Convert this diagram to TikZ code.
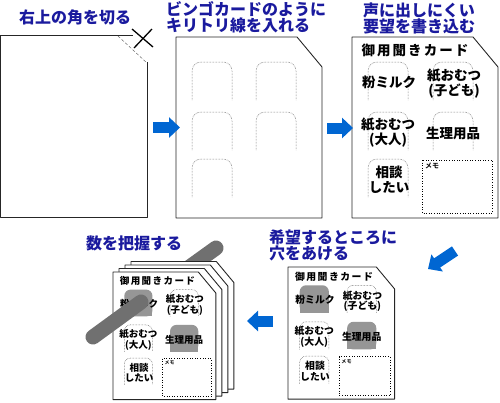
\documentclass[tikz,border=0pt]{standalone}
\usepackage{fontspec}
\newfontfamily\jp[BoldFont={Noto Sans CJK JP Bold}]{Noto Sans CJK JP}
\newfontfamily\jpheavy{Noto Sans CJK JP Black}
\usetikzlibrary{arrows.meta}
\definecolor{titleblue}{RGB}{26,26,158}
\definecolor{arrowblue}{RGB}{0,102,210}
\definecolor{holegray}{RGB}{150,150,150}
\definecolor{stickgray}{RGB}{112,112,112}
\newcommand*{\cardw}{146}
\newcommand*{\cardh}{181}
\newcommand*{\archw}{40}
\newcommand*{\archh}{38}
\newcommand*{\rad  }{9pt}

\tikzset{
  sheet/.style     = {draw=black!85, line width=0.9pt, fill=white, line join=round},
  archline/.style  = {draw=black!70, line width=0.5pt, densely dotted, rounded corners=\rad},
  memobox/.style   = {draw=black, line width=0.6pt, dotted},
  steptitle/.style = {text=titleblue, inner sep=0pt, font=\jpheavy\fontsize{16}{16}\selectfont},
  cardtitle/.style = {inner sep=0pt, font=\jpheavy\fontsize{13.5}{14}\selectfont\addfontfeature{LetterSpace=15}},
  item/.style      = {inner sep=0pt, align=center, font=\jpheavy\fontsize{13.5}{15}\selectfont},
  memo/.style      = {inner sep=0pt, font=\jp\bfseries\fontsize{7}{8}\selectfont},
  bluearrow/.style = {arrowblue, line width=11pt, -{Triangle[width=20pt,length=11pt]}},
  stick/.style     = {stickgray, line width=15pt, line cap=round},
}

\newcommand{\sheetoutline}{\draw [sheet] (0,0) -- (\cardw-25,0) -- (\cardw,30) -- (\cardw,\cardh) -- (0,\cardh) -- cycle;}
\newcommand{\arch}[2]{\draw [archline] (#1,#2+\archh) -- (#1,#2) -- (#1+\archw,#2) -- (#1+\archw,#2+\archh);}
\newcommand{\hole}[2]{%
  \fill [holegray, rounded corners=\rad] (#1,#2) rectangle (#1+\archw,#2+\archh);
  \fill [holegray] (#1,#2+15) rectangle (#1+\archw,#2+\archh);}
\newcommand{\cardhead}{\node [cardtitle] (head) at (63,13) {御用聞きカード};}
\newcommand{\cardtext}{%
  \node [item]      (milk)  at (37,45)   {粉ミルク};
  \node [item]      (kids)  at (102,47)  {紙おむつ\\(子ども)};
  \node [item]      (adult) at (36,96)   {紙おむつ\\(大人)};
  \node [item]      (care)  at (101,96)  {生理用品};
  \node [item]      (talk)  at (37,143)  {相談\\したい};
  \draw [memobox] (70,123) rectangle (140,176);
  \node [memo, anchor=west] (memo) at (73,129) {メモ};}
\newcommand{\holecard}{%
  \sheetoutline
  \hole{16}{25} \hole{81}{75}
  \arch{81}{25} \arch{16}{75} \arch{16}{122}
  \cardhead
  \cardtext}

\begin{document}
\begin{tikzpicture}[x=1pt, y=-1pt]
    \useasboundingbox (0,0) rectangle (500,402);

    % step 1
    \node [steptitle] (t1) at (75,17) {右上の角を切る};
    \draw [sheet, fill=none] (133,35) -- (0,35) -- (0,217) -- (147,217) -- (147,62);
    \draw [black!60, line width=0.5pt, densely dashed] (118,36) -- (147,63);
    \draw [line width=1.3pt] (132,29) -- (153,47) (152,29) -- (134,48);

    % step 2
    \node [steptitle, align=left, anchor=west] (t2) at (166,17.5) {ビンゴカードのように\\キリトリ線を入れる};
    \begin{scope}[shift={(176,37)}]
        \sheetoutline
        \arch{16}{25} \arch{80}{25}
        \arch{16}{75} \arch{80}{75}
        \arch{16}{122}
    \end{scope}

    % step 3
    \node [steptitle, align=center] (t3) at (419,18.5) {声に出しにくい\\要望を書き込む};
    \begin{scope}[shift={(352,37)}, name prefix=ask-]
        \sheetoutline
        \arch{16}{25} \arch{81}{25}
        \arch{16}{75} \arch{81}{75}
        \arch{16}{122}
        \cardhead
        \cardtext
    \end{scope}

    % step 4
    \node [steptitle, align=left, anchor=west] (t4) at (269,245) {希望するところに\\穴をあける};
    \begin{scope}[shift={(288,267)}, scale=0.73, transform shape, name prefix=punch-]
        \def\rad{6.5pt}
        \holecard
    \end{scope}

    % step 5
    \node [steptitle] (t5) at (134,243) {数を把握する};
    \coordinate (stickTop) at (216,248);
    \coordinate (stickMid) at (141,302);
    \coordinate (stickLow) at (93,337);
    \draw [stick] (stickMid) -- (stickTop);
    \foreach \i in {3,2,1} {
        \begin{scope}[shift={(113+6*\i,272-3.5*\i)}, scale=0.705, transform shape, name prefix=stack\i-]
            \sheetoutline
            \cardhead
        \end{scope}
    }
    \begin{scope}[shift={(113,272)}, scale=0.705, transform shape, name prefix=stack0-]
        \def\rad{6.3pt}
        \holecard
    \end{scope}
    \draw [stick] (stickLow) -- (stickMid);

    % arrows
    \coordinate (a1s) at (153,127.5);
    \coordinate (a1e) at (180,127.5);
    \coordinate (a2s) at (327,128);
    \coordinate (a2e) at (353,128);
    \coordinate (a3s) at (455,251);
    \coordinate (a3e) at (428,269);
    \coordinate (a4s) at (273,321);
    \coordinate (a4e) at (247,321);
    \draw [bluearrow] (a1s) -- (a1e);
    \draw [bluearrow] (a2s) -- (a2e);
    \draw [bluearrow] (a3s) -- (a3e);
    \draw [bluearrow] (a4s) -- (a4e);
\end{tikzpicture}
\end{document}
